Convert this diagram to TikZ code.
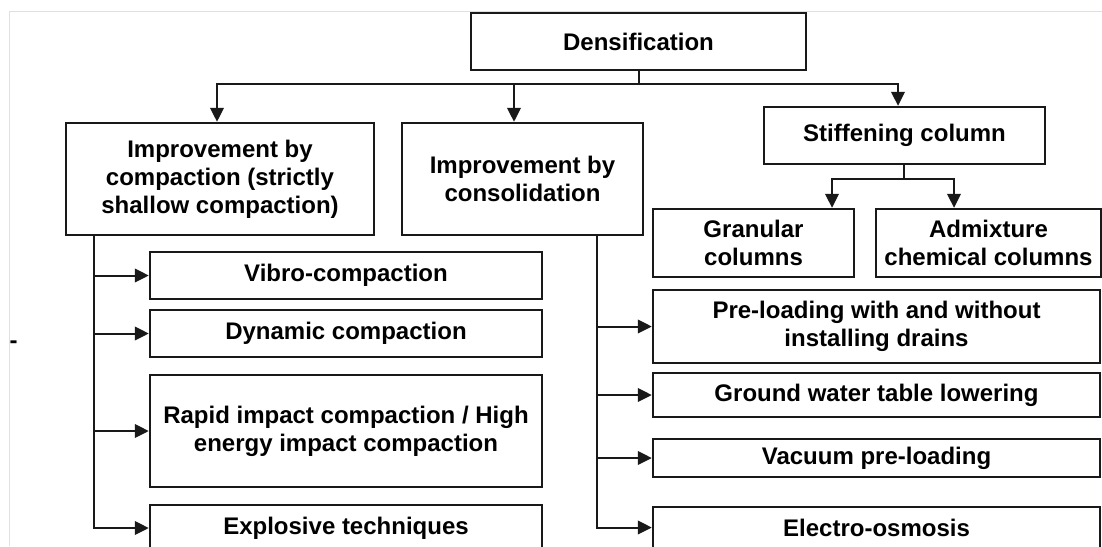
\documentclass[tikz,border=0pt]{standalone}
\usepackage{fontspec}
\setmainfont{Liberation Sans}
\usetikzlibrary{arrows.meta}
\begin{document}
\begin{tikzpicture}[x=1pt,y=-1pt,
  box/.style={draw=black!90, line width=2.4pt, align=center, inner sep=0pt,
    font=\fontsize{24}{28}\selectfont\bfseries},
  link/.style={line width=2pt, draw=black!90},
  arr/.style={link, -{Triangle[length=14pt,width=13.5pt]}},
  frameline/.style={draw=black!12, line width=1pt}]
\useasboundingbox (0,0) rectangle (1102,546);
% faint page frame
\draw[frameline] (1102,11) -- (9,11) -- (9,546);
\node[font=\fontsize{24}{28}\selectfont\bfseries, inner sep=0pt, anchor=base] (mark) at (13.5,348) {-};

% top level
\node[box, minimum width=335pt, minimum height=57pt] (dens) at (638.5,41.5) {Densification};

% second level
\node[box, minimum width=308pt, minimum height=112pt] (comp) at (220,179)
  {Improvement by\\compaction (strictly\\shallow compaction)};
\node[box, minimum width=241pt, minimum height=112pt] (cons) at (522.5,179)
  {Improvement by\\consolidation};
\node[box, minimum width=281pt, minimum height=57pt] (stiff) at (904.5,135.5)
  {Stiffening column};

% column types
\node[box, minimum width=201pt, minimum height=68pt] (gran) at (753.5,243)
  {Granular\\columns};
\node[box, minimum width=225pt, minimum height=68pt] (admix) at (988.5,243)
  {Admixture\\chemical columns};

% compaction methods
\node[box, minimum width=392pt, minimum height=47pt] (vibro) at (346,275.5) {Vibro-compaction};
\node[box, minimum width=392pt, minimum height=47pt] (dyn) at (346,333.5) {Dynamic compaction};
\node[box, minimum width=392pt, minimum height=112pt] (rapid) at (346,431)
  {Rapid impact compaction / High\\energy impact compaction};
\node[box, minimum width=392pt, minimum height=46pt] (expl) at (346,528) {Explosive techniques};

% consolidation methods
\node[box, minimum width=447pt, minimum height=73pt] (pre) at (876.5,326.5)
  {Pre-loading with and without\\installing drains};
\node[box, minimum width=447pt, minimum height=44pt] (gwt) at (876.5,395) {Ground water table lowering};
\node[box, minimum width=447pt, minimum height=38pt] (vac) at (876.5,458) {Vacuum pre-loading};
\node[box, minimum width=447pt, minimum height=41pt] (elec) at (876.5,527.5) {Electro-osmosis};

% connectors from the top box
\draw[link] (dens.south) -- +(0,13) coordinate (h0);
\draw[arr] (h0) -| ([xshift=-3pt]comp.north);
\draw[arr] (h0) -| ([xshift=-8.5pt]cons.north);
\draw[arr] (h0) -| ([xshift=-6.5pt]stiff.north);

% stiffening column branches
\draw[link] ([xshift=-0.5pt]stiff.south) -- +(0,14) coordinate (h1);
\draw[arr] (h1) -| ([xshift=78.5pt]gran.north);
\draw[arr] (h1) -| ([xshift=-34.5pt]admix.north);

% compaction spine
\coordinate (ca) at (94,235);
\draw[arr] (ca) |- (vibro.west);
\draw[arr] (ca) |- (dyn.west);
\draw[arr] (ca) |- (rapid.west);
\draw[arr] (ca) |- (expl.west);

% consolidation spine
\coordinate (cb) at (597,235);
\draw[arr] (cb) |- (pre.west);
\draw[arr] (cb) |- (gwt.west);
\draw[arr] (cb) |- (vac.west);
\draw[arr] (cb) |- (elec.west);
\end{tikzpicture}
\end{document}
